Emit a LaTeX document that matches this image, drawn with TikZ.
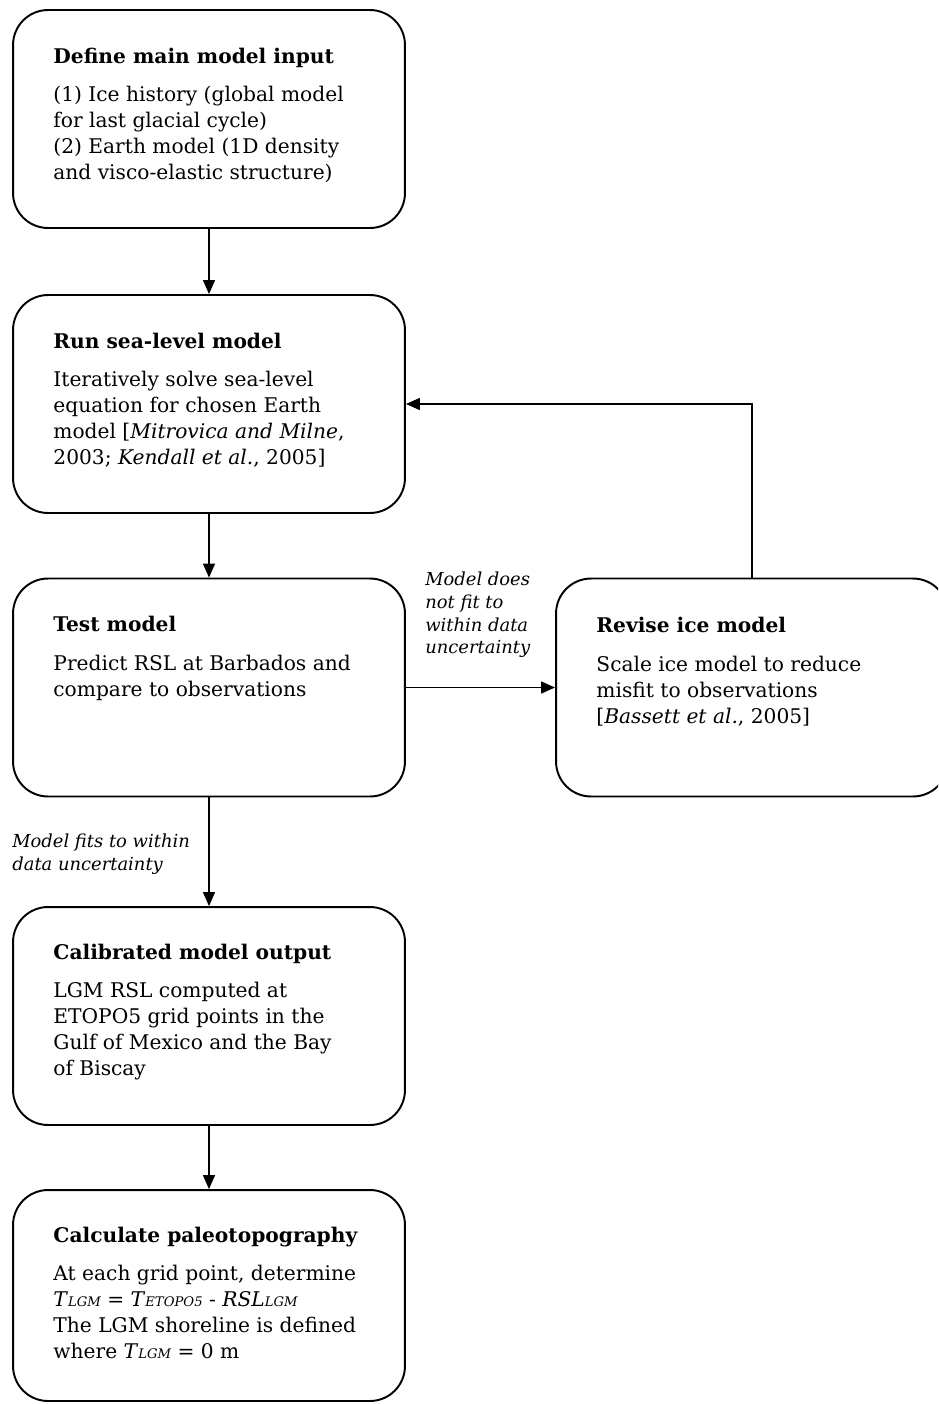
\documentclass[tikz,border=0pt]{standalone}
\usepackage{fontspec}
\setmainfont{DejaVu Serif}
\usepackage{tikz}
\usetikzlibrary{arrows.meta,positioning}

\newcommand{\lowtag}[1]{{\fontsize{7.5}{7.5}\selectfont\itshape #1}}

\begin{document}
\begin{tikzpicture}[
            x=0.02cm, y=-0.02cm,
            stepbox/.style={
                draw,
                rounded corners=0.7cm,
                line width=1.1pt,
                minimum width=7.84cm,
                minimum height=4.36cm,
                inner sep=0pt
            },
            boxtext/.style={
                anchor=north west,
                inner sep=0pt,
                align=left,
                font=\fontsize{11.5}{14.8}\selectfont
            },
            note/.style={
                anchor=north west,
                inner sep=0pt,
                align=left,
                font=\fontsize{10.2}{12.9}\selectfont\itshape
            },
            conn/.style={
                -{Triangle[length=0.28cm,width=0.24cm]},
                line width=0.8pt
            }
        ]

            \useasboundingbox (0,0) rectangle (938,1404);
            \clip (0,0) rectangle (938,1404);

            % Boxes
            \node[stepbox] (def)    at (209,119)   {};
            \node[stepbox] (run)    at (209,404)   {};
            \node[stepbox] (test)   at (209,687.5) {};
            \node[stepbox] (revise) at (752,687.5) {};
            \node[stepbox] (calib)  at (209,1016)  {};
            \node[stepbox, minimum height=4.22cm] (paleo) at (209,1295.5) {};

            % Box contents
            \node[boxtext, below right=0.77cm and 0.82cm of def.north west] (defT) {%
                \textbf{Define main model input}\\[7pt]
                (1) Ice history (global model\\
                for last glacial cycle)\\
                (2) Earth model (1D density\\
                and visco-elastic structure)};
            \node[boxtext, below right=0.77cm and 0.82cm of run.north west] (runT) {%
                \textbf{Run sea-level model}\\[7pt]
                Iteratively solve sea-level\\
                equation for chosen Earth\\
                model [\textit{Mitrovica and Milne},\\
                2003; \textit{Kendall et al.}, 2005]};
            \node[boxtext, below right=0.77cm and 0.82cm of test.north west] (testT) {%
                \textbf{Test model}\\[7pt]
                Predict RSL at Barbados and\\
                compare to observations};
            \node[boxtext, below right=0.79cm and 0.82cm of revise.north west] (reviseT) {%
                \textbf{Revise ice model}\\[7pt]
                Scale ice model to reduce\\
                misfit to observations\\
                {[}\textit{Bassett et al.}, 2005]};
            \node[boxtext, below right=0.75cm and 0.82cm of calib.north west] (calibT) {%
                \textbf{Calibrated model output}\\[7pt]
                LGM RSL computed at\\
                ETOPO5 grid points in the\\
                Gulf of Mexico and the Bay\\
                of Biscay};
            \node[boxtext, below right=0.75cm and 0.82cm of paleo.north west] (paleoT) {%
                \textbf{Calculate paleotopography}\\[7pt]
                At each grid point, determine\\
                \textit{T}\lowtag{LGM} = \textit{T}\lowtag{ETOPO5} - \textit{RSL}\lowtag{LGM}\\
                The LGM shoreline is defined\\
                where \textit{T}\lowtag{LGM} = 0 m};

            % Connector labels
            \node[note] (nofit) at (425,572) {Model does\\ not fit to\\ within data\\ uncertainty};
            \node[note] (fits)  at (12,834)  {Model fits to within\\ data uncertainty};

            % Connectors
            \draw[conn] (def.south)  -- (run.north);
            \draw[conn] (run.south)  -- (test.north);
            \draw[conn] (test.east)  -- (revise.west);
            \draw[conn] (revise.north) |- (run.east);
            \draw[conn] (test.south) -- (calib.north);
            \draw[conn] (calib.south) -- (paleo.north);

        \end{tikzpicture}
\end{document}
